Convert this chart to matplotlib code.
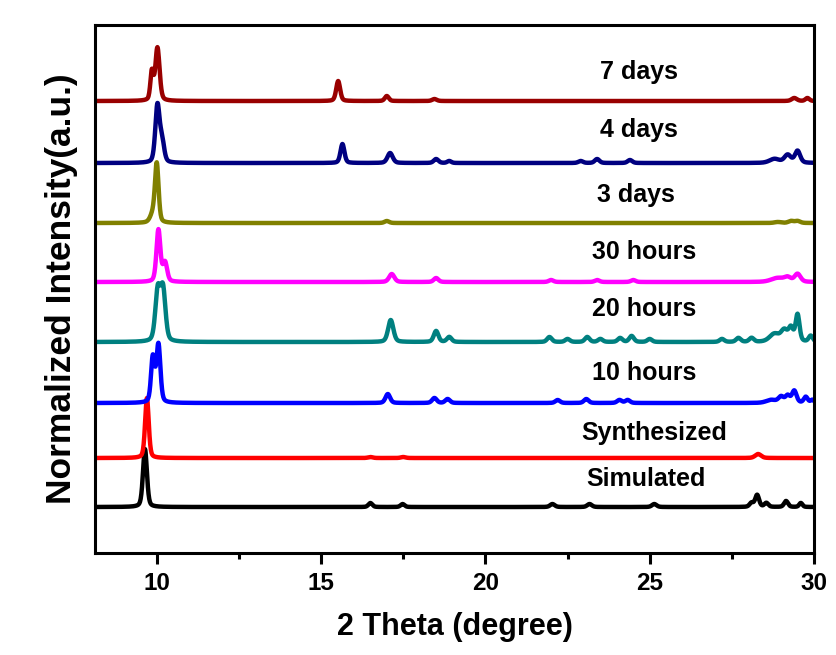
import numpy as np
import matplotlib
matplotlib.use('Agg')
import matplotlib.pyplot as plt
from matplotlib.ticker import MultipleLocator

# Muestras, de abajo hacia arriba
muestras = ['Simulated', 'Synthesized', '10 hours', '20 hours', '30 hours',
            '3 days', '4 days', '7 days']
colores = ['#000000', '#ff0000', '#0000ff', '#008080', '#ff00ff',
           '#808000', '#000080', '#990000']
# Linea base de cada patron (unidades arbitrarias)
bases = [46, 95, 150, 211, 271, 330, 390, 452]

# Picos: (2theta, altura, ancho)
picos_sim = [(9.64, 58, 0.06), (16.5, 4, 0.06), (17.48, 3, 0.06), (22.04, 3, 0.07),
             (23.17, 3, 0.07), (25.14, 3, 0.07), (28.1, 4, 0.06), (28.27, 12, 0.06),
             (28.55, 4, 0.06), (29.15, 6, 0.06), (29.6, 4, 0.05)]
picos_syn = [(9.7, 60, 0.055), (16.5, 1, 0.07), (17.5, 1, 0.07), (28.3, 4, 0.09)]
picos_10h = [(9.88, 45, 0.055), (10.05, 58, 0.06), (17.03, 9, 0.07), (18.45, 5, 0.07),
             (18.85, 4, 0.07), (22.2, 3, 0.07), (23.07, 4, 0.07), (24.08, 3, 0.07),
             (24.33, 3, 0.07), (28.7, 3, 0.15), (29.0, 6, 0.08), (29.2, 7, 0.07),
             (29.4, 12, 0.07), (29.75, 6, 0.06), (29.95, 3, 0.05)]
picos_20h = [(10.03, 50, 0.075), (10.19, 51, 0.075), (17.12, 22, 0.08), (18.5, 11, 0.07),
             (18.9, 5, 0.07), (21.95, 5, 0.07), (22.5, 3, 0.07), (23.1, 5, 0.07),
             (23.5, 3, 0.07), (24.1, 4, 0.07), (24.45, 6, 0.07), (25.0, 3, 0.07),
             (27.2, 3, 0.07), (27.7, 4, 0.07), (28.1, 4, 0.07), (28.8, 8, 0.15),
             (29.1, 11, 0.1), (29.3, 13, 0.07), (29.5, 27, 0.06), (29.9, 6, 0.06)]
picos_30h = [(10.05, 52, 0.06), (10.25, 19, 0.065), (17.15, 8, 0.08), (18.5, 4, 0.07),
             (22.0, 2, 0.07), (23.4, 2, 0.07), (24.5, 2, 0.07), (28.9, 4, 0.2),
             (29.2, 4, 0.1), (29.5, 8, 0.09)]
picos_3d = [(9.88, 8, 0.08), (10.0, 58, 0.055), (17.0, 2, 0.07), (28.9, 1, 0.1),
            (29.3, 2, 0.08), (29.5, 2, 0.08)]
picos_4d = [(10.02, 57, 0.065), (10.16, 21, 0.065), (15.65, 19, 0.06), (17.1, 10, 0.08),
            (18.5, 4, 0.07), (18.9, 2, 0.06), (22.9, 2, 0.07), (23.4, 4, 0.07),
            (24.4, 3, 0.07), (28.8, 4, 0.15), (29.2, 8, 0.1), (29.5, 12, 0.08)]
picos_7d = [(9.85, 28, 0.045), (10.02, 53, 0.065), (15.52, 20, 0.06), (17.0, 5, 0.06),
            (18.45, 2, 0.07), (29.4, 3, 0.08), (29.8, 3, 0.06)]
picos = [picos_sim, picos_syn, picos_10h, picos_20h, picos_30h, picos_3d, picos_4d, picos_7d]

# Posicion de las etiquetas (2theta, altura sobre la base)
etiqueta_x = [24.9, 25.14, 24.84, 24.84, 24.84, 24.59, 24.68, 24.68]
etiqueta_dy = [28, 25, 30, 33, 30, 28, 33, 29]


def pseudo_voigt(x, c, h, w, eta=0.35):
    g = np.exp(-(x - c) ** 2 / (2 * w ** 2))
    l = 1.0 / (1.0 + ((x - c) / (1.18 * w)) ** 2)
    return h * ((1 - eta) * g + eta * l)


def graficar():
    plt.rcParams['font.family'] = ['Liberation Sans', 'DejaVu Sans']
    plt.rcParams['font.weight'] = 'bold'

    fig = plt.figure(figsize=(8.37, 6.55), dpi=100)
    ax = fig.add_axes([0.1135, 0.1557, 0.8590, 0.8061])

    x = np.arange(8.1, 30.01, 0.01)
    for nombre, color, base, lista, ex, dy in zip(muestras, colores, bases, picos,
                                                  etiqueta_x, etiqueta_dy):
        y = np.full_like(x, float(base))
        for c, h, w in lista:
            y += pseudo_voigt(x, c, h, w)
        ax.plot(x, y, color=color, lw=3.2, solid_joinstyle='round',
                solid_capstyle='round')
        ax.text(ex, base + dy, nombre, ha='center', va='center',
                fontsize=18, fontweight='bold')

    ax.set_xlim(8.12, 30)
    ax.set_ylim(0, 528)
    ax.xaxis.set_major_locator(MultipleLocator(5))
    ax.xaxis.set_minor_locator(MultipleLocator(2.5))
    ax.set_yticks([])
    ax.tick_params(axis='x', which='major', direction='out', length=8, width=2.2,
                   labelsize=17.5, pad=6)
    ax.tick_params(axis='x', which='minor', direction='out', length=4, width=2.2)
    for s in ax.spines.values():
        s.set_linewidth(2.2)

    ax.set_xlabel('2 Theta (degree)', fontsize=22, fontweight='bold', labelpad=12)
    ax.set_ylabel('Normalized Intensity(a.u.)', fontsize=25.5, fontweight='bold',
                  labelpad=12)

    fig.savefig('out.png', dpi=100)


if __name__ == "__main__":
    graficar()
